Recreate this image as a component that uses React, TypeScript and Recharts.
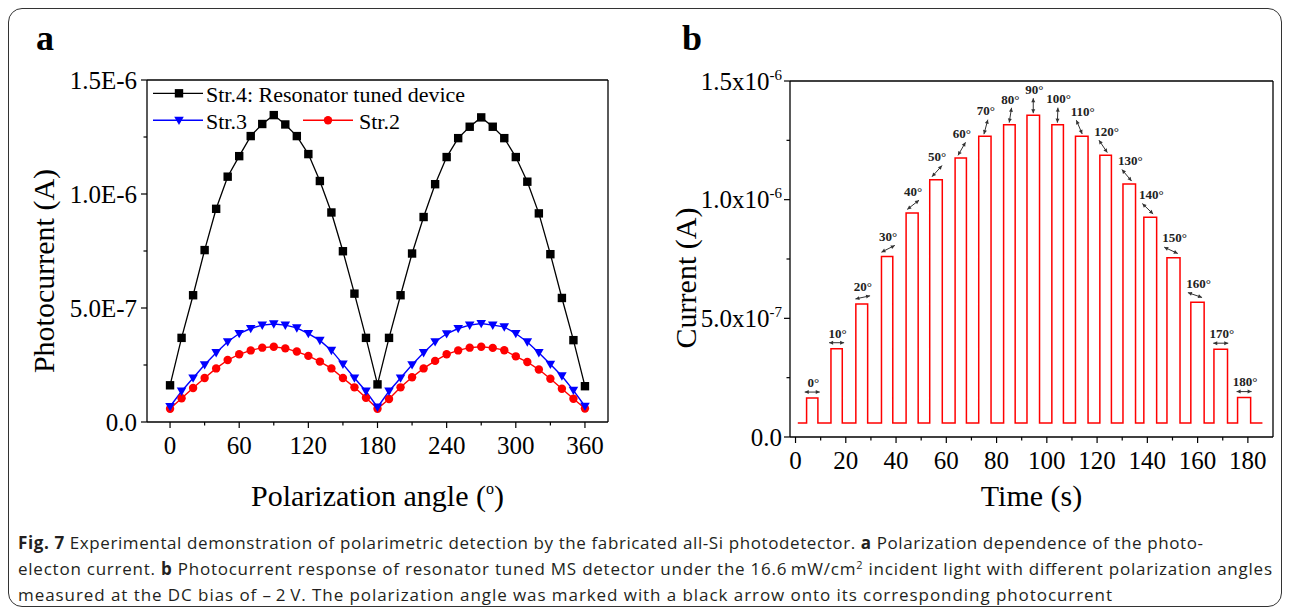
import React from "react";
import { LineChart, Line, XAxis, YAxis, ComposedChart, Scatter, ReferenceLine } from "recharts";

const SERIF = '"Liberation Serif", "Times New Roman", serif';
const SANS = '"Open Sans", "Noto Sans", sans-serif';

// ---- panel a: photocurrent vs polarization angle, values in 1e-7 A ----
const angles = [
  0, 10, 20, 30, 40, 50, 60, 70, 80, 90, 100, 110, 120, 130, 140, 150, 160, 170, 180,
  190, 200, 210, 220, 230, 240, 250, 260, 270, 280, 290, 300, 310, 320, 330, 340, 350, 360,
];
const str4 = [
  1.61, 3.69, 5.56, 7.54, 9.35, 10.76, 11.66, 12.54, 13.07, 13.46, 13.05, 12.54, 11.75, 10.57, 9.19, 7.49, 5.63, 3.69, 1.65,
  3.69, 5.56, 7.39, 8.99, 10.43, 11.62, 12.45, 12.95, 13.36, 12.95, 12.45, 11.62, 10.54, 9.15, 7.36, 5.44, 3.59, 1.57,
];
const str3 = [
  0.68, 1.35, 1.93, 2.51, 3.04, 3.52, 3.88, 4.1, 4.25, 4.3, 4.25, 4.13, 3.88, 3.58, 3.14, 2.54, 1.93, 1.35, 0.65,
  1.35, 1.93, 2.51, 3.04, 3.52, 3.87, 4.1, 4.25, 4.32, 4.25, 4.17, 3.88, 3.51, 3.04, 2.53, 2.02, 1.39, 0.69,
];
const str2 = [
  0.58, 1.04, 1.49, 1.93, 2.35, 2.72, 2.97, 3.14, 3.26, 3.3, 3.23, 3.09, 2.9, 2.65, 2.35, 1.93, 1.52, 1.06, 0.58,
  1.01, 1.52, 1.96, 2.35, 2.68, 2.97, 3.14, 3.26, 3.3, 3.25, 3.15, 2.88, 2.63, 2.3, 1.9, 1.46, 1.02, 0.59,
];
const angleTicks = [0, 60, 120, 180, 240, 300, 360];
const angleTickLabels = ["0", "60", "120", "180", "240", "300", "360"];
const angleMinorTicks = [30, 90, 150, 210, 270, 330];
const currentTicks = [0, 5, 10, 15];
const currentMinorTicks = [2.5, 7.5, 12.5];
const currentTickLabelsA = ["0.0", "5.0E-7", "1.0E-6", "1.5E-6"];

// ---- panel b: current vs time, values in 1e-7 A ----
const pulseAngles = [
  "0°", "10°", "20°", "30°", "40°", "50°", "60°", "70°", "80°", "90°",
  "100°", "110°", "120°", "130°", "140°", "150°", "160°", "170°", "180°",
];
const pulseOn = [4.4, 14.1, 24.0, 34.2, 44.0, 53.4, 63.5, 72.9, 82.8, 92.1, 102.0, 111.4, 121.1, 130.3, 138.6, 147.8, 157.3, 166.5, 175.9];
const pulseOff = [8.9, 18.6, 28.7, 38.7, 48.8, 58.4, 68.0, 77.8, 87.4, 97.1, 106.6, 116.4, 125.7, 135.3, 143.7, 153.0, 162.6, 171.9, 181.1];
const pulseLevel = [1.64, 3.72, 5.6, 7.61, 9.44, 10.84, 11.76, 12.67, 13.16, 13.56, 13.16, 12.67, 11.87, 10.66, 9.26, 7.55, 5.68, 3.7, 1.66];
const darkLevel = 0.59;
const traceStart = 0.9;
const traceEnd = 185.8;
const timeTicks = [0, 20, 40, 60, 80, 100, 120, 140, 160, 180];
const timeTickLabels = ["0", "20", "40", "60", "80", "100", "120", "140", "160", "180"];
const timeMinorTicks = [10, 30, 50, 70, 90, 110, 130, 150, 170];
const currentTickLabelsB = ["0.0", "5.0x10", "1.0x10", "1.5x10"];
const currentTickExpB = ["", "-7", "-6", "-6"];

// arrow tilt of each angle marker (deg, style only)
const arrowTilt = [0, 0, 12, 27, 38, 48, 60, 75, 81, 90, 88, -67, -56, -50, -44, -25, -19, 0, 0];

const angleRows = angles.map((a, i) => ({ angle: a, s4: str4[i], s3: str3[i], s2: str2[i] }));

const traceRows: { t: number; v: number }[] = [{ t: traceStart, v: darkLevel }];
pulseOn.forEach((on, i) => {
  traceRows.push(
    { t: on, v: darkLevel },
    { t: on, v: pulseLevel[i] },
    { t: pulseOff[i], v: pulseLevel[i] },
    { t: pulseOff[i], v: darkLevel }
  );
});
traceRows.push({ t: traceEnd, v: darkLevel });

const markRows = pulseOn.map((on, i) => ({ t: (on + pulseOff[i]) / 2, v: pulseLevel[i], label: pulseAngles[i], i }));

const AXIS = { stroke: "#000", strokeWidth: 1.3 };

function XTick(props: any) {
  const { x, y, payload, majors, labels, margin, fontSize } = props;
  const axisY = y - 6 - margin;
  const idx = majors.indexOf(payload.value);
  const major = idx >= 0;
  return (
    <g>
      <line x1={x} x2={x} y1={axisY} y2={axisY + (major ? 6 : 3.5)} stroke="#000" strokeWidth={1.2} />
      {major && (
        <text x={x} y={axisY + 6 + margin} dy="0.71em" textAnchor="middle" fontFamily={SERIF} fontSize={fontSize} fill="#000">
          {labels[idx]}
        </text>
      )}
    </g>
  );
}

function YTick(props: any) {
  const { x, y, payload, majors, labels, exps, margin, fontSize } = props;
  const axisX = x + 6 + margin;
  const idx = majors.indexOf(payload.value);
  const major = idx >= 0;
  const exp = exps ? exps[idx] : "";
  return (
    <g>
      <line x1={axisX - (major ? 6 : 3.5)} x2={axisX} y1={y} y2={y} stroke="#000" strokeWidth={1.2} />
      {major && (
        <text x={axisX - 6 - margin} y={y} dy="0.34em" textAnchor="end" fontFamily={SERIF} fontSize={fontSize} fill="#000">
          {labels[idx]}
          {exp ? (
            <tspan dy={-10} fontSize={15}>
              {exp}
            </tspan>
          ) : null}
        </text>
      )}
    </g>
  );
}

const squareDot = (p: any) => (
  <rect key={`sq${p.index}`} x={p.cx - 4.2} y={p.cy - 4.2} width={8.4} height={8.4} fill="#000" />
);
const triDot = (p: any) => (
  <polygon
    key={`tr${p.index}`}
    points={`${p.cx - 4.8},${p.cy - 3.6} ${p.cx + 4.8},${p.cy - 3.6} ${p.cx},${p.cy + 4.8}`}
    fill="#0000ff"
  />
);
const circDot = (p: any) => <circle key={`ci${p.index}`} cx={p.cx} cy={p.cy} r={4.2} fill="#ff0000" />;

function PulseMark(props: any) {
  const { cx, cy, payload } = props;
  if (cx == null || cy == null) return <g />;
  const tilt = arrowTilt[payload.i];
  const th = (tilt * Math.PI) / 180;
  const s = Math.abs(Math.sin(th));
  const mx = cx + (tilt < 0 ? -2.5 : tilt > 0 && tilt < 85 ? 1 : 0);
  const my = cy - 6 - 3.5 * s;
  const ux = Math.cos(th);
  const uy = -Math.sin(th);
  const h = 7.5;
  const x1 = mx - ux * h;
  const y1 = my - uy * h;
  const x2 = mx + ux * h;
  const y2 = my + uy * h;
  const head = (px: number, py: number, dx: number, dy: number) => {
    const L = 4;
    const W = 2;
    const bx = px - dx * L;
    const by = py - dy * L;
    return `${px},${py} ${bx - dy * W},${by + dx * W} ${bx + dy * W},${by - dx * W}`;
  };
  return (
    <g>
      <line x1={x1} y1={y1} x2={x2} y2={y2} stroke="#333" strokeWidth={1} />
      <polygon points={head(x2, y2, ux, uy)} fill="#333" />
      <polygon points={head(x1, y1, -ux, -uy)} fill="#333" />
      <text x={cx + 1} y={cy - 11.2 - 10 * s} textAnchor="middle" fontFamily={SERIF} fontWeight="bold" fontSize={13} fill="#222">
        {payload.label}
      </text>
    </g>
  );
}

function PanelA() {
  return (
    <LineChart width={640} height={470} data={angleRows} margin={{ top: 72, right: 40, left: 59, bottom: 26 }}>
      <XAxis
        dataKey="angle"
        type="number"
        domain={[-20, 380]}
        ticks={[...angleTicks, ...angleMinorTicks]}
        interval={0}
        height={30}
        tickSize={6}
        tickMargin={8}
        tickLine={false}
        axisLine={AXIS}
        tick={<XTick majors={angleTicks} labels={angleTickLabels} margin={8} fontSize={25} />}
      />
      <YAxis
        type="number"
        domain={[0, 15]}
        ticks={[...currentTicks, ...currentMinorTicks]}
        interval={0}
        width={80}
        tickSize={6}
        tickMargin={4}
        tickLine={false}
        axisLine={AXIS}
        tick={<YTick majors={currentTicks} labels={currentTickLabelsA} margin={4} fontSize={25} />}
      />
      <ReferenceLine y={15} stroke="#000" strokeWidth={1.3} />
      <ReferenceLine x={380} stroke="#000" strokeWidth={1.3} />
      <Line dataKey="s2" stroke="#ff0000" strokeWidth={1.4} dot={circDot} isAnimationActive={false} />
      <Line dataKey="s3" stroke="#0000ff" strokeWidth={1.4} dot={triDot} isAnimationActive={false} />
      <Line dataKey="s4" stroke="#000" strokeWidth={1.3} dot={squareDot} isAnimationActive={false} />
    </LineChart>
  );
}

function PanelB() {
  return (
    <ComposedChart width={634} height={470} margin={{ top: 73, right: 9, left: 42, bottom: 11 }}>
      <XAxis
        dataKey="t"
        type="number"
        domain={[-2.2, 190]}
        ticks={[...timeTicks, ...timeMinorTicks]}
        interval={0}
        height={30}
        tickSize={6}
        tickMargin={8}
        tickLine={false}
        axisLine={AXIS}
        tick={<XTick majors={timeTicks} labels={timeTickLabels} margin={8} fontSize={25} />}
      />
      <YAxis
        type="number"
        domain={[0, 15]}
        ticks={[...currentTicks, ...currentMinorTicks]}
        interval={0}
        width={100}
        tickSize={6}
        tickMargin={2}
        tickLine={false}
        axisLine={AXIS}
        tick={<YTick majors={currentTicks} labels={currentTickLabelsB} exps={currentTickExpB} margin={2} fontSize={25} />}
      />
      <ReferenceLine y={15} stroke="#000" strokeWidth={1.3} />
      <ReferenceLine x={190} stroke="#000" strokeWidth={1.3} />
      <Line data={traceRows} dataKey="v" type="linear" stroke="#ff0000" strokeWidth={1.5} dot={false} isAnimationActive={false} />
      <Scatter data={markRows} dataKey="v" shape={PulseMark} isAnimationActive={false} />
    </ComposedChart>
  );
}

export default function App() {
  const t = { fontFamily: SERIF, fill: "#000" };
  return (
    <div style={{ position: "relative", width: 1274, height: 600 }}>
      <div
        style={{
          position: "absolute",
          left: 0,
          top: 0,
          width: 1274,
          height: 599,
          boxSizing: "border-box",
          border: "1.6px solid #333",
          borderRadius: 14,
        }}
      />
      <div style={{ position: "absolute", left: 0, top: 0 }}>
        <PanelA />
      </div>
      <div style={{ position: "absolute", left: 640, top: 0 }}>
        <PanelB />
      </div>
      <svg width={1274} height={600} style={{ position: "absolute", left: 0, top: 0, pointerEvents: "none" }}>
        <text x={37} y={42} textAnchor="middle" fontSize={36} fontWeight="bold" {...t}>a</text>
        <text x={684} y={42} textAnchor="middle" fontSize={36} fontWeight="bold" {...t}>b</text>

        <text transform="translate(35,263) rotate(-90)" textAnchor="middle" dominantBaseline="central" fontSize={30} {...t}>
          Photocurrent (A)
        </text>
        <text transform="translate(677,270) rotate(-90)" textAnchor="middle" dominantBaseline="central" fontSize={30} {...t}>
          Current (A)
        </text>
        <text x={369.5} y={498} textAnchor="middle" fontSize={30} {...t}>
          Polarization angle (
          <tspan dy={-12} fontSize={16}>o</tspan>
          <tspan dy={12}>)</tspan>
        </text>
        <text x={1023.5} y={498} textAnchor="middle" fontSize={30} {...t}>
          Time (s)
        </text>

        {/* legend of panel a */}
        <line x1={145} x2={195} y1={85.3} y2={85.3} stroke="#000" strokeWidth={1.3} />
        {squareDot({ cx: 171, cy: 85.3, index: "lg" })}
        <text x={198} y={93.5} fontSize={22} {...t}>Str.4: Resonator tuned device</text>
        <line x1={145} x2={195} y1={112.3} y2={112.3} stroke="#0000ff" strokeWidth={1.4} />
        {triDot({ cx: 171, cy: 112.3, index: "lg" })}
        <text x={198} y={120.5} fontSize={22} {...t}>Str.3</text>
        <line x1={295} x2={345} y1={112.3} y2={112.3} stroke="#ff0000" strokeWidth={1.4} />
        {circDot({ cx: 320, cy: 112.3, index: "lg" })}
        <text x={351} y={120.5} fontSize={22} {...t}>Str.2</text>

        {/* caption */}
        <g fontFamily={SANS} fontSize={17} fill="#231f20">
          <text x={10} y={541} textLength={1185} lengthAdjust="spacing">
            <tspan fontWeight={700}>Fig. 7</tspan>
            {" Experimental demonstration of polarimetric detection by the fabricated all-Si photodetector. "}
            <tspan fontWeight={700}>a</tspan>
            {" Polarization dependence of the photo-"}
          </text>
          <text x={10} y={567} textLength={1254} lengthAdjust="spacing">
            {"electon current. "}
            <tspan fontWeight={700}>b</tspan>
            {" Photocurrent response of resonator tuned MS detector under the 16.6\u2009mW/cm"}
            <tspan dy={-6} fontSize={11}>2</tspan>
            <tspan dy={6}>{" incident light with different polarization angles"}</tspan>
          </text>
          <text x={10} y={593} textLength={1094} lengthAdjust="spacing">
            {"measured at the DC bias of \u2013\u20092\u2009V. The polarization angle was marked with a black arrow onto its corresponding photocurrent"}
          </text>
        </g>
      </svg>
    </div>
  );
}
